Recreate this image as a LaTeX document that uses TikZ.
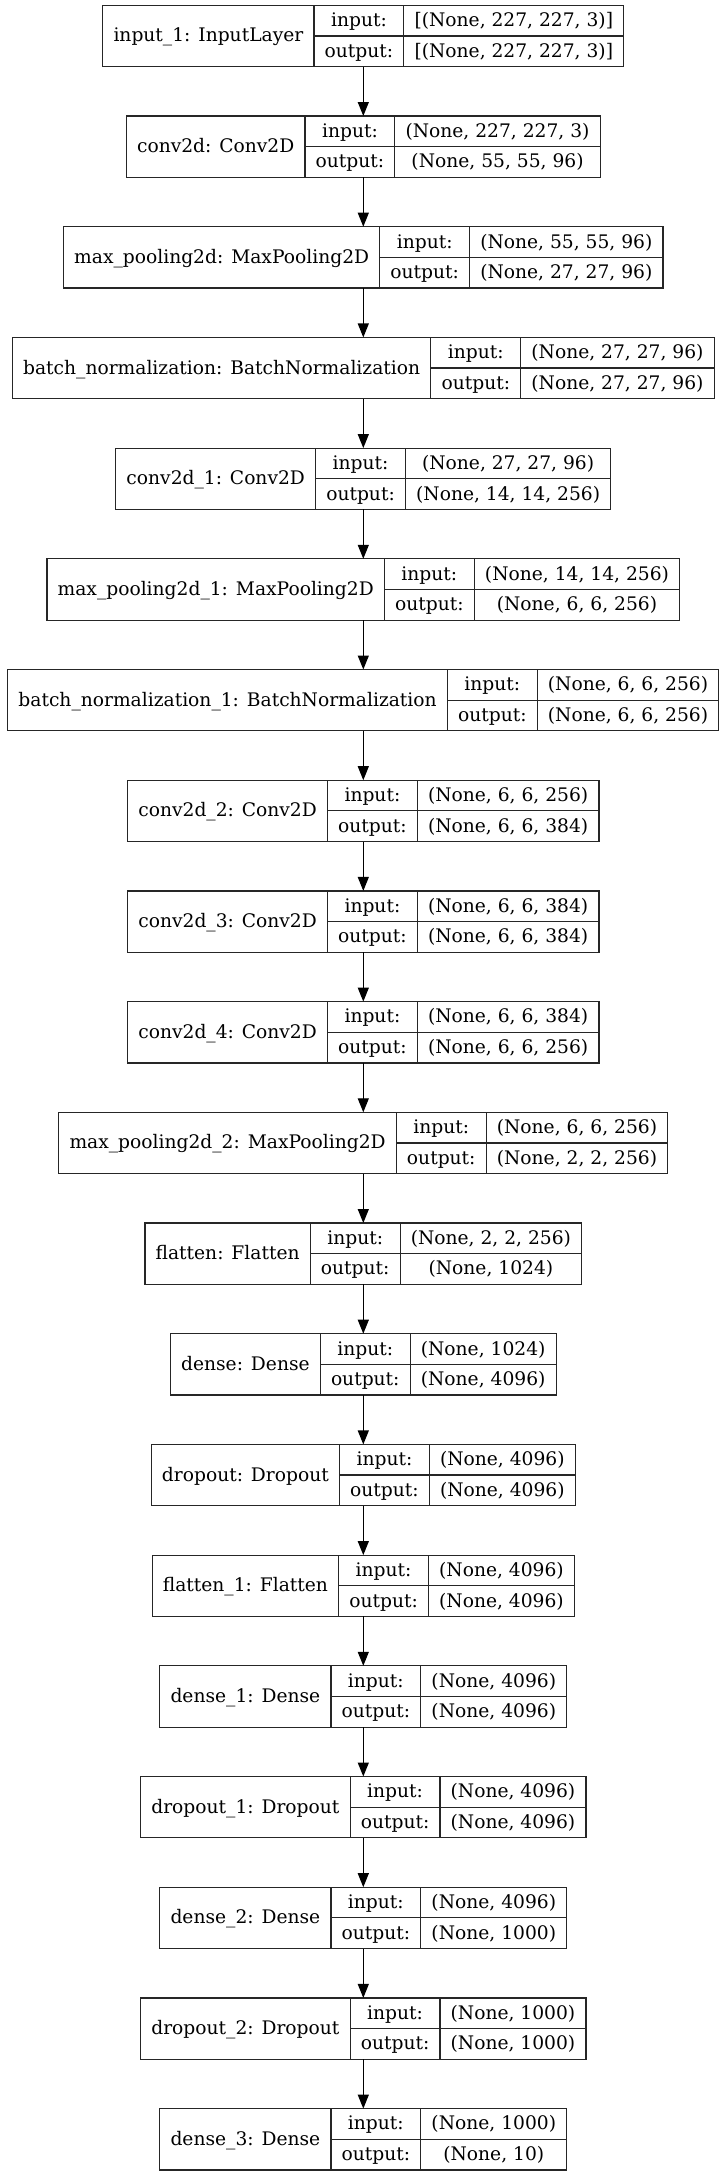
\documentclass[tikz,border=0pt]{standalone}
\usepackage{fontspec}
\setmainfont{DejaVu Serif}
\usetikzlibrary{arrows.meta}
\newlength{\lwA}\newlength{\lwB}\newlength{\lwC}\newlength{\lwT}
\newcommand{\lfont}{\fontsize{18.67}{22}\selectfont}
\tikzset{
  x=1pt, y=-1pt,
  box/.style={draw=black!85, line width=1.2pt, inner sep=0pt, outer sep=0pt, minimum height=61.3pt},
  boxline/.style={draw=black!85, line width=1.2pt},
  txt/.style={anchor=base, inner sep=0pt, font=\lfont},
  arr/.style={draw=black, line width=1.2pt, -{Triangle[length=14pt,width=11pt]}}
}
% measure a row outside the picture and store its geometry
\newcommand{\prep}[4]{%
  \settowidth{\lwA}{\lfont #2}\addtolength{\lwA}{21.33pt}%
  \settowidth{\lwB}{\lfont output:}\addtolength{\lwB}{21.33pt}%
  \settowidth{\lwC}{\lfont #3}\settowidth{\lwT}{\lfont #4}%
  \ifdim\lwT>\lwC \lwC=\lwT\fi
  \addtolength{\lwC}{21.33pt}%
  \pgfmathsetmacro{\tmpW}{\lwA+\lwB+\lwC}%
  \pgfmathsetmacro{\tmpL}{363.3-\tmpW/2}%
  \pgfmathsetmacro{\tmpS}{\tmpL+\lwA}%
  \pgfmathsetmacro{\tmpT}{\tmpS+\lwB}%
  \pgfmathsetmacro{\tmpR}{\tmpL+\tmpW}%
  \expandafter\xdef\csname rW#1\endcsname{\tmpW}%
  \expandafter\xdef\csname rL#1\endcsname{\tmpL}%
  \expandafter\xdef\csname rS#1\endcsname{\tmpS}%
  \expandafter\xdef\csname rT#1\endcsname{\tmpT}%
  \expandafter\xdef\csname rR#1\endcsname{\tmpR}%
  \expandafter\gdef\csname rlab#1\endcsname{#2}%
  \expandafter\gdef\csname rin#1\endcsname{#3}%
  \expandafter\gdef\csname rout#1\endcsname{#4}%
}
\newcommand{\kerasrow}[1]{%
  \pgfmathsetmacro{\rtop}{5.3+110.7*#1}%
  \pgfmathsetmacro{\rmid}{\rtop+30.65}%
  \pgfmathsetmacro{\rbot}{\rtop+61.3}%
  \edef\rW{\csname rW#1\endcsname}%
  \edef\xL{\csname rL#1\endcsname}%
  \edef\xS{\csname rS#1\endcsname}%
  \edef\xT{\csname rT#1\endcsname}%
  \edef\xR{\csname rR#1\endcsname}%
  \node[box, minimum width=\rW pt] (l#1) at (363.3,\rmid) {};
  \draw[boxline] (\xS,\rtop) -- (\xS,\rbot) (\xT,\rtop) -- (\xT,\rbot) (\xS,\rmid) -- (\xR,\rmid);
  \node[txt] (l#1-label) at ({(\xL+\xS)/2},\rmid+6) {\csname rlab#1\endcsname};
  \node[txt] (l#1-ik) at ({(\xS+\xT)/2},\rtop+21.3) {input:};
  \node[txt] (l#1-ok) at ({(\xS+\xT)/2},\rmid+21.3) {output:};
  \node[txt] (l#1-iv) at ({(\xT+\xR)/2},\rtop+21.3) {\csname rin#1\endcsname};
  \node[txt] (l#1-ov) at ({(\xT+\xR)/2},\rmid+21.3) {\csname rout#1\endcsname};
}
\begin{document}
\prep{0}{input\_1: InputLayer}{[(None, 227, 227, 3)]}{[(None, 227, 227, 3)]}%
\prep{1}{conv2d: Conv2D}{(None, 227, 227, 3)}{(None, 55, 55, 96)}%
\prep{2}{max\_pooling2d: MaxPooling2D}{(None, 55, 55, 96)}{(None, 27, 27, 96)}%
\prep{3}{batch\_normalization: BatchNormalization}{(None, 27, 27, 96)}{(None, 27, 27, 96)}%
\prep{4}{conv2d\_1: Conv2D}{(None, 27, 27, 96)}{(None, 14, 14, 256)}%
\prep{5}{max\_pooling2d\_1: MaxPooling2D}{(None, 14, 14, 256)}{(None, 6, 6, 256)}%
\prep{6}{batch\_normalization\_1: BatchNormalization}{(None, 6, 6, 256)}{(None, 6, 6, 256)}%
\prep{7}{conv2d\_2: Conv2D}{(None, 6, 6, 256)}{(None, 6, 6, 384)}%
\prep{8}{conv2d\_3: Conv2D}{(None, 6, 6, 384)}{(None, 6, 6, 384)}%
\prep{9}{conv2d\_4: Conv2D}{(None, 6, 6, 384)}{(None, 6, 6, 256)}%
\prep{10}{max\_pooling2d\_2: MaxPooling2D}{(None, 6, 6, 256)}{(None, 2, 2, 256)}%
\prep{11}{flatten: Flatten}{(None, 2, 2, 256)}{(None, 1024)}%
\prep{12}{dense: Dense}{(None, 1024)}{(None, 4096)}%
\prep{13}{dropout: Dropout}{(None, 4096)}{(None, 4096)}%
\prep{14}{flatten\_1: Flatten}{(None, 4096)}{(None, 4096)}%
\prep{15}{dense\_1: Dense}{(None, 4096)}{(None, 4096)}%
\prep{16}{dropout\_1: Dropout}{(None, 4096)}{(None, 4096)}%
\prep{17}{dense\_2: Dense}{(None, 4096)}{(None, 1000)}%
\prep{18}{dropout\_2: Dropout}{(None, 1000)}{(None, 1000)}%
\prep{19}{dense\_3: Dense}{(None, 1000)}{(None, 10)}%
\begin{tikzpicture}
\useasboundingbox (0,0) rectangle (727,2176);
\fill[white] (0,0) rectangle (727,2176);
\kerasrow{0}\kerasrow{1}\kerasrow{2}\kerasrow{3}\kerasrow{4}
\kerasrow{5}\kerasrow{6}\kerasrow{7}\kerasrow{8}\kerasrow{9}
\kerasrow{10}\kerasrow{11}\kerasrow{12}\kerasrow{13}\kerasrow{14}
\kerasrow{15}\kerasrow{16}\kerasrow{17}\kerasrow{18}\kerasrow{19}
\foreach \a/\b in {0/1,1/2,2/3,3/4,4/5,5/6,6/7,7/8,8/9,9/10,10/11,11/12,12/13,13/14,14/15,15/16,16/17,17/18,18/19}
  \draw[arr] (l\a.south) -- (l\b.north);
\end{tikzpicture}
\end{document}
